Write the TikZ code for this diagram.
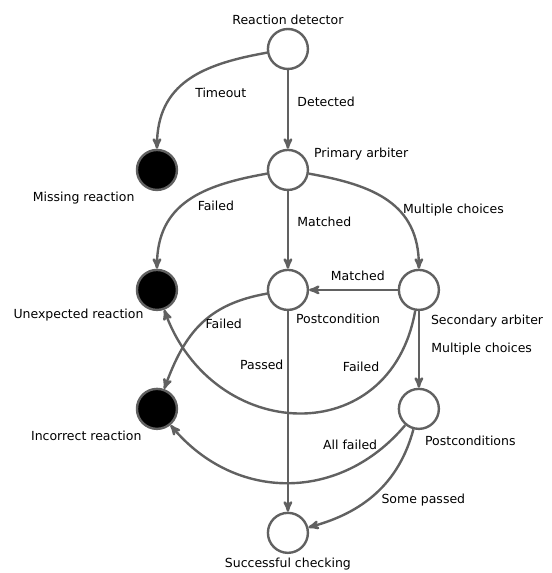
\documentclass[tikz,border=0pt]{standalone}
\usepackage{fontspec}
\setmainfont{DejaVu Sans}
\usetikzlibrary{automata, positioning, arrows}
\tikzset{
	->,
	>=stealth',
	node distance=120pt,
	every state/.style={draw=black!62, line width=2.4pt, minimum size=40pt, inner sep=0pt},
	every edge/.style={draw=black!62, line width=2.4pt},
	failstate/.style={fill=black},
	baseline}

\begin{document}
\begin{tikzpicture}[font=\fontsize{12.5}{15}\selectfont]
		%Main line
		\node[state, label=above:Reaction detector] (rd) {};
		\node[state, below of=rd, node distance=121pt, label={[anchor=west, xshift=9pt]50:Primary arbiter}] (pa) {};
		\node[state, below of=pa, label={[anchor=north west, xshift=1pt]-80:Postcondition}] (post) {};
		\node[state, below of=post, node distance=243pt, label=below:Successful checking] (succ) {};
		
		%Right
		\node[state, right of=post, node distance=131pt, label={[anchor=north west, xshift=-2pt, yshift=-3pt]-60:Secondary arbiter}] (sec) {};
		\node[state, below of=sec, node distance=119pt, label={[anchor=north west, xshift=-1pt, yshift=-3pt]-80:Postconditions}] (postc) {};
		
		%Left
		\node[state, failstate, left of=pa, node distance=131pt, label={[anchor=north east, xshift=-4pt, yshift=-4pt]-135:Missing reaction}] (miss) {};
		\node[state, failstate, left of=post, node distance=131pt, label={[anchor=north east, xshift=5pt, yshift=-1pt]-135:Unexpected reaction}] (unexp) {};
		\node[state, failstate, below of=unexp, node distance=119pt, label={[anchor=north east, xshift=3pt, yshift=-4pt]-135:Incorrect reaction}] (incorr) {};
		
		\useasboundingbox (rd.center) ++(-288pt,49pt) rectangle ++(552pt,-573pt);
		
		\draw
		(rd) edge[out=190, in=90, looseness=1.15] node[below right, pos=.5, xshift=3pt, yshift=-3pt] {Timeout} (miss)
		(rd) edge node[right=5pt, pos=.4] {Detected} (pa)
		
		(pa) edge[out=190, in=90, looseness=1.15] node[right, pos=.55, xshift=11pt] {Failed} (unexp)
		(pa) edge node[right=5pt, pos=.4] {Matched} (post)
		(pa) edge[out=-10, in=90, looseness=1.15] node[right, pos=.6] {Multiple choices} (sec)
		
		(sec) edge node[above=5pt, pos=.45] {Matched} (post)
		(sec) edge[out=-100, in=-70, looseness=1.45] node[left, pos=.16, xshift=-9pt] {Failed} (unexp)
		(sec) edge node[right=8pt] {Multiple choices} (postc)
		
		(post) edge[out=190, in=70, looseness=1.1] node[right, pos=.5] {Failed} (incorr)
		(post) edge node[left, pos=.27] {Passed} (succ)
		
		(postc) edge[out=-130, in=-50, looseness=1.1] node[above left, pos=.15, xshift=8pt] {All failed} (incorr)
		(postc) edge[out=-105, in=15] node[right, pos=.58, xshift=10pt] {Some passed} (succ)
		;
	\end{tikzpicture}
\end{document}
